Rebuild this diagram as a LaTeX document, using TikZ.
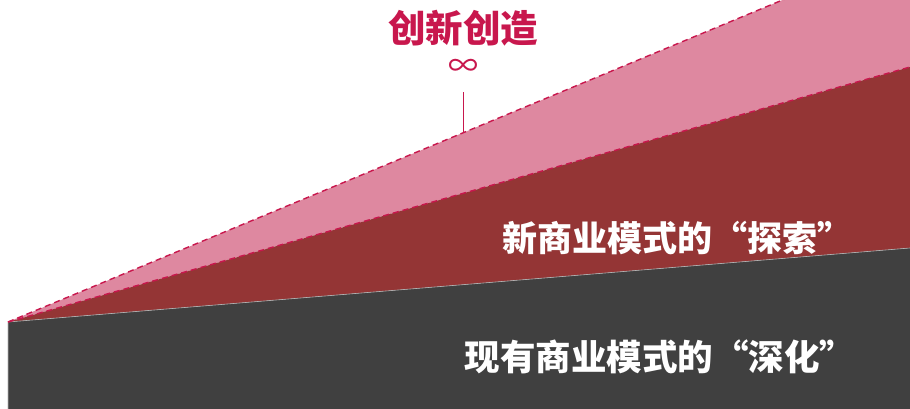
\documentclass[tikz,border=0pt]{standalone}
\usepackage{fontspec}
\newfontfamily\cjk{Noto Sans CJK SC}
\usetikzlibrary{positioning}
\definecolor{crimson}{HTML}{C8174D}
\definecolor{pinkfill}{HTML}{DE88A0}
\definecolor{redfill}{HTML}{943535}
\definecolor{grayfill}{HTML}{404040}
\tikzset{
  edge/.style={crimson,line width=1.4pt,dash pattern=on 6pt off 4pt},
  band/.style={text=white,font=\cjk\bfseries\fontsize{35.5}{38}\selectfont,inner sep=0pt}
}

\begin{document}
\begin{tikzpicture}[x=1pt,y=1pt]
\useasboundingbox (0,0) rectangle (910,409);
\clip (0,0) rectangle (910,409);
\coordinate (O) at (8,87);
\coordinate (G) at (910,161);
\coordinate (R) at (910,342);
\coordinate (P) at (910,462);
\fill[pinkfill] (O) -- (P) -- (R) -- cycle;
\fill[redfill] (O) -- (R) -- (G) -- cycle;
\fill[grayfill] (O) -- (G) -- (910,0) -- (8,0) -- cycle;
\draw[white!60!grayfill,line width=0.6pt] (8,0) -- (O) -- (G);
\draw[edge] (O) -- (P);
\draw[edge] (O) -- (R);
\node[band] (deep) at (660,52) {现有商业模式的“深化”};
\node[band,font=\cjk\bfseries\fontsize{35}{38}\selectfont] (explore) at (677,171) {新商业模式的“探索”};
\node[text=crimson,font=\cjk\bfseries\fontsize{37.5}{40}\selectfont,inner sep=0pt] (title) at (463,381) {创新创造};
\node[text=crimson,font=\cjk\fontsize{30}{32}\selectfont,inner sep=0pt] (inf) at (463,341) {∞};
\coordinate (T) at (463,276);
\coordinate (Ttop) at (463,317);
\draw[crimson,line width=1pt] (T) -- (Ttop);
\end{tikzpicture}
\end{document}
